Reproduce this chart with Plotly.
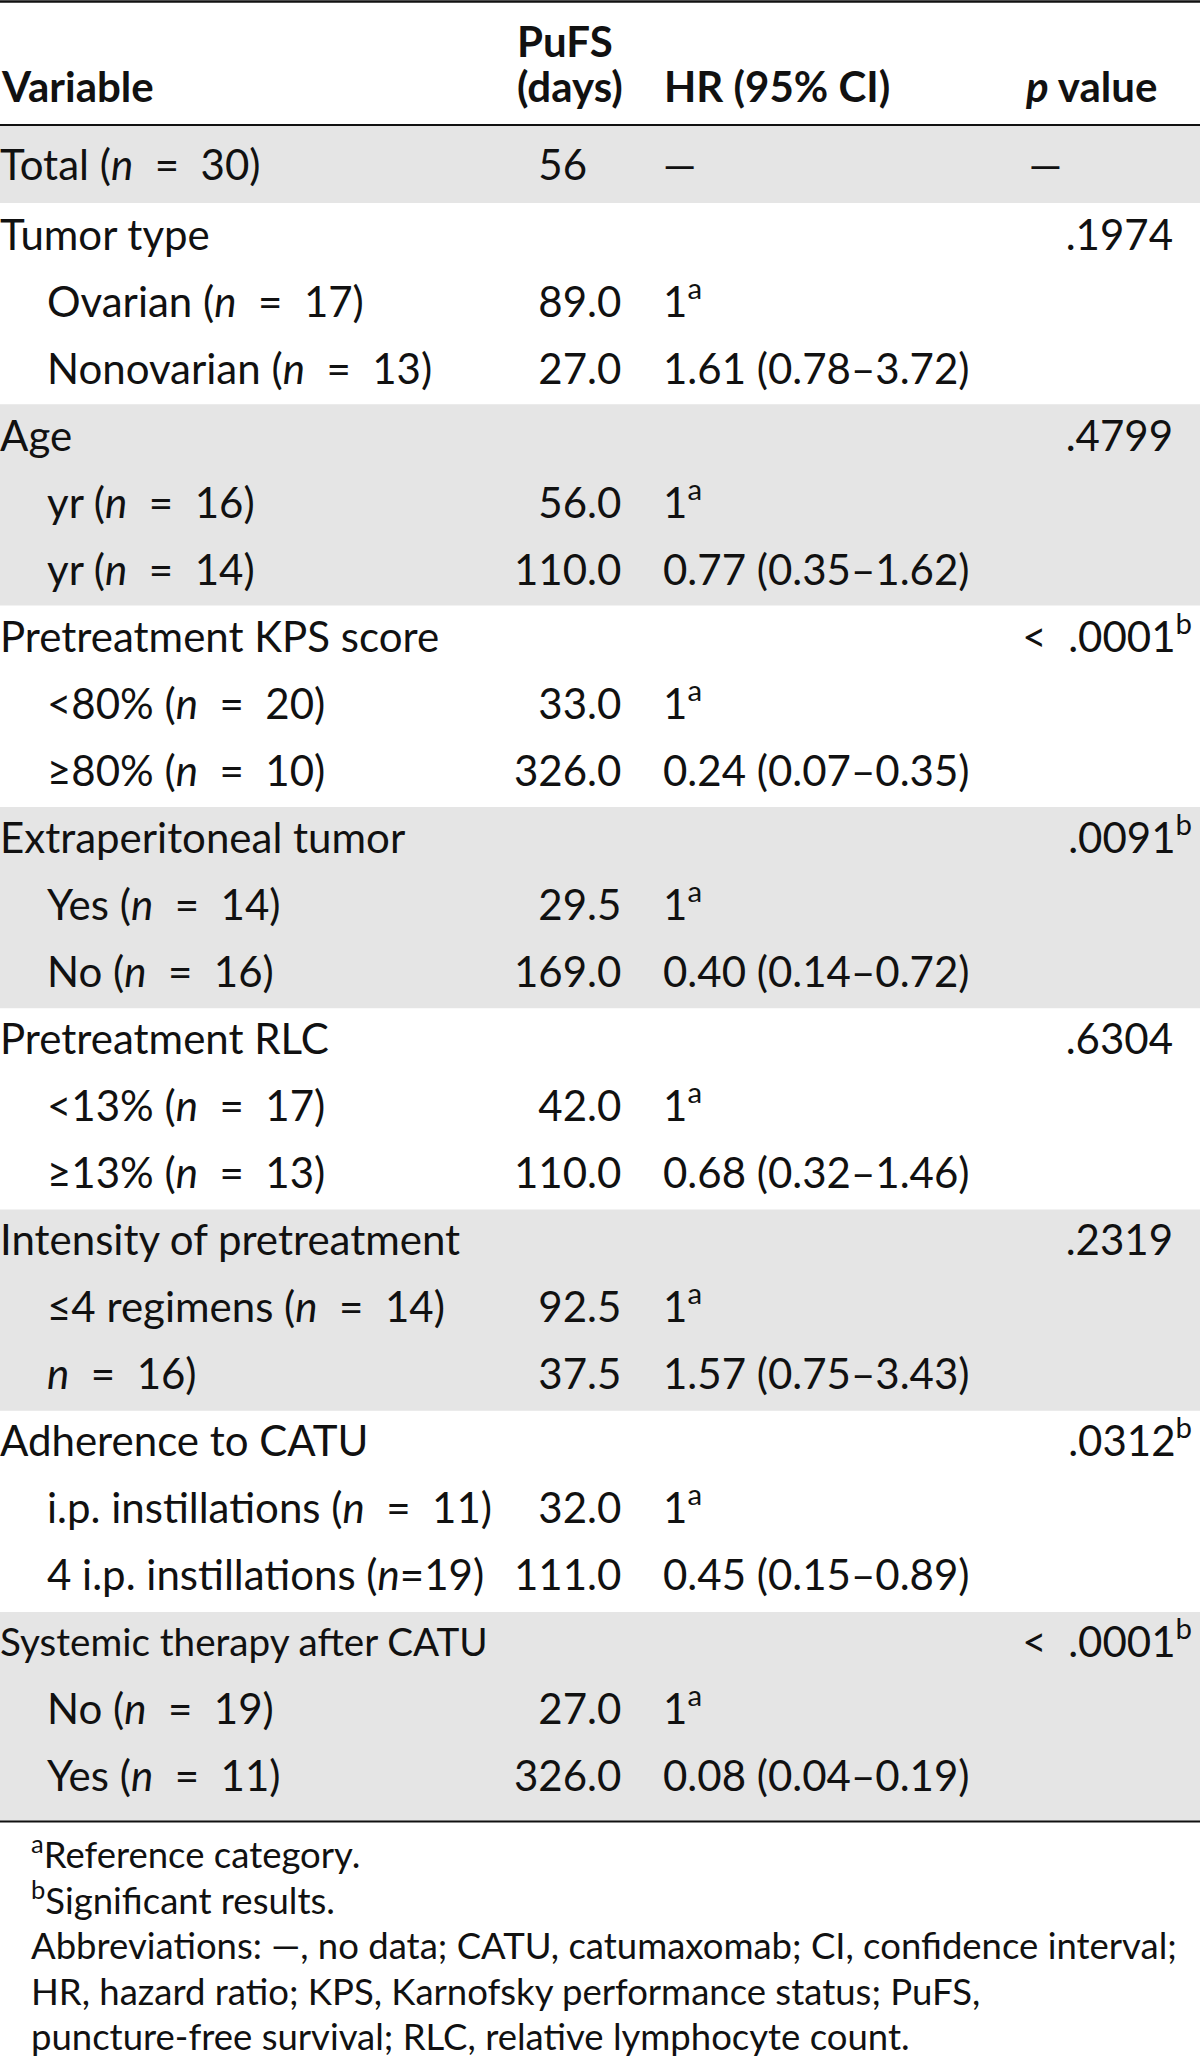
import plotly.graph_objects as go

# ---------------- data ----------------
EQ = "&nbsp; = &nbsp;"
variables = [
    f"Total (<i>n</i>{EQ}30)",
    "Tumor type",
    f"Ovarian (<i>n</i>{EQ}17)",
    f"Nonovarian (<i>n</i>{EQ}13)",
    "Age",
    f"yr (<i>n</i>{EQ}16)",
    f"yr (<i>n</i>{EQ}14)",
    "Pretreatment KPS score",
    f"&lt;80% (<i>n</i>{EQ}20)",
    f"≥80% (<i>n</i>{EQ}10)",
    "Extraperitoneal tumor",
    f"Yes (<i>n</i>{EQ}14)",
    f"No (<i>n</i>{EQ}16)",
    "Pretreatment RLC",
    f"&lt;13% (<i>n</i>{EQ}17)",
    f"≥13% (<i>n</i>{EQ}13)",
    "Intensity of pretreatment",
    f"≤4 regimens (<i>n</i>{EQ}14)",
    f"<i>n</i>{EQ}16)",
    "Adherence to CATU",
    f"i.p. instillations (<i>n</i>{EQ}11)",
    "4 i.p. instillations (<i>n</i>=19)",
    "Systemic therapy after CATU",
    f"No (<i>n</i>{EQ}19)",
    f"Yes (<i>n</i>{EQ}11)",
]
indent_level = [0, 0, 1, 1, 0, 1, 1, 0, 1, 1, 0, 1, 1, 0, 1, 1, 0, 1, 1, 0, 1, 1, 0, 1, 1]
pufs_days = ["56", "", "89.0", "27.0", "", "56.0", "110.0", "", "33.0", "326.0",
             "", "29.5", "169.0", "", "42.0", "110.0", "", "92.5", "37.5",
             "", "32.0", "111.0", "", "27.0", "326.0"]
hr_ci = ["—", "", "1<sup>a</sup>", "1.61 (0.78–3.72)", "", "1<sup>a</sup>", "0.77 (0.35–1.62)",
         "", "1<sup>a</sup>", "0.24 (0.07–0.35)", "", "1<sup>a</sup>", "0.40 (0.14–0.72)",
         "", "1<sup>a</sup>", "0.68 (0.32–1.46)", "", "1<sup>a</sup>", "1.57 (0.75–3.43)",
         "", "1<sup>a</sup>", "0.45 (0.15–0.89)", "", "1<sup>a</sup>", "0.08 (0.04–0.19)"]
p_value = ["—", ".1974", "", "", ".4799", "", "", "&lt;&nbsp; .0001", "", "", ".0091", "", "",
           ".6304", "", "", ".2319", "", "", ".0312", "", "", "&lt;&nbsp; .0001", "", ""]
p_sup = ["", "", "", "", "", "", "", "b", "", "", "b", "", "", "", "", "", "", "", "",
         "b", "", "", "b", "", ""]
shaded_groups = [1, 3, 5, 7]  # Age, Extraperitoneal, Intensity, Systemic (groups after Total)

footnotes = [
    "<sup>a</sup>Reference category.",
    "<sup>b</sup>Significant results.",
    "Abbreviations: —, no data; CATU, catumaxomab; CI, confidence interval;",
    "HR, hazard ratio; KPS, Karnofsky performance status; PuFS,",
    "puncture-free survival; RLC, relative lymphocyte count.",
]

# ---------------- layout geometry ----------------
W, H = 1200, 2058
FONT = "Lato"
FS = 42
FS_FOOT = 36.5
INK = "#111111"
GRAY = "#e5e5e5"
top_rule, head_rule, bottom_rule = 1.5, 125, 1821.5
total_bottom = 203
band_row_h = 67.1
text_row_h = 67.0
first_text_y = 239
total_text_y = 169

n = len(variables)
y_text = [total_text_y if i == 0 else first_text_y + (i - 1) * text_row_h for i in range(n)]

x_var = [0 if lv == 0 else 47 for lv in indent_level]
x_dec = 587      # decimal point of PuFS column
x_hr = 663
x_p_sup = 1192
x_p = 1173
x_p_dash = 1062

fig = go.Figure()

# shaded bands
shapes = [dict(type="rect", xref="paper", yref="y", x0=0, x1=1,
               y0=head_rule, y1=total_bottom, fillcolor=GRAY, line_width=0, layer="below")]
for g in shaded_groups:
    y0 = total_bottom + g * 3 * band_row_h
    y1 = bottom_rule if g == 7 else y0 + 3 * band_row_h
    shapes.append(dict(type="rect", xref="paper", yref="y", x0=0, x1=1,
                       y0=y0, y1=y1, fillcolor=GRAY, line_width=0, layer="below"))
# rules
for yy, w in [(top_rule, 2.6), (head_rule, 2.2), (bottom_rule, 2.2)]:
    shapes.append(dict(type="line", xref="paper", yref="y", x0=0, x1=1,
                       y0=yy, y1=yy, line=dict(color=INK, width=w)))


def add_col(xs, ys, texts, pos, sizes=None):
    keep = [k for k, t in enumerate(texts) if t]
    fig.add_trace(go.Scatter(
        x=[xs[k] for k in keep], y=[ys[k] for k in keep], mode="text",
        text=[texts[k] for k in keep], textposition=pos,
        textfont=dict(family=FONT, color=INK,
                      size=[sizes[k] for k in keep] if sizes else FS),
        hoverinfo="skip"))


# Variable column (the long systemic-therapy label is set condensed, as in the source)
label_size = [FS * 0.92 if v.startswith("Systemic") else FS for v in variables]
add_col(x_var, y_text, variables, "middle right", label_size)

# PuFS column (decimal aligned)
int_part = [v.split(".")[0] if v else "" for v in pufs_days]
frac_part = [("." + v.split(".")[1]) if "." in v else "" for v in pufs_days]
add_col([x_dec] * n, y_text, int_part, "middle left")
add_col([x_dec] * n, y_text, frac_part, "middle right")

# HR column
add_col([x_hr] * n, y_text, hr_ci, "middle right")

# p value column
p_text, p_x = [], []
for v, s in zip(p_value, p_sup):
    if v == "—":
        p_text.append(v)
        p_x.append(x_p_dash)
    elif s:
        p_text.append(v + "<sup>" + s + "</sup>")
        p_x.append(x_p_sup)
    else:
        p_text.append(v)
        p_x.append(x_p)
add_col(p_x, y_text, p_text, "middle left")

# headers
annotations = []
head_y = 86
for x, y, t, xa in [(0, head_y, "<b>Variable</b>", "left"),
                    (516, 41, "<b>PuFS</b>", "left"),
                    (516, head_y, "<b>(days)</b>", "left"),
                    (x_hr, head_y, "<b>HR (95% CI)</b>", "left"),
                    (1158, head_y, "<b><i>p</i> value</b>", "right")]:
    annotations.append(dict(x=x, y=y, text=t, xanchor=xa, xref="x", yref="y",
                            yanchor="middle", showarrow=False, borderpad=0,
                            font=dict(family=FONT, size=FS, color=INK)))

# footnotes
foot_y = [1852, 1898, 1945, 1991, 2036]
for t, yy in zip(footnotes, foot_y):
    annotations.append(dict(x=30, y=yy, text=t, xref="x", yref="y", xanchor="left",
                            yanchor="middle", showarrow=False, borderpad=0,
                            font=dict(family=FONT, size=FS_FOOT, color=INK)))

fig.update_layout(
    width=W, height=H, margin=dict(l=0, r=0, t=0, b=0),
    paper_bgcolor="white", plot_bgcolor="white", showlegend=False,
    xaxis=dict(range=[0, W], visible=False, fixedrange=True),
    yaxis=dict(range=[H, 0], visible=False, fixedrange=True),
    shapes=shapes, annotations=annotations,
)
fig.write_html(
    "out.html",
    config={"displayModeBar": False},
    post_script="document.body.style.margin='0';document.body.style.overflow='hidden';",
)
